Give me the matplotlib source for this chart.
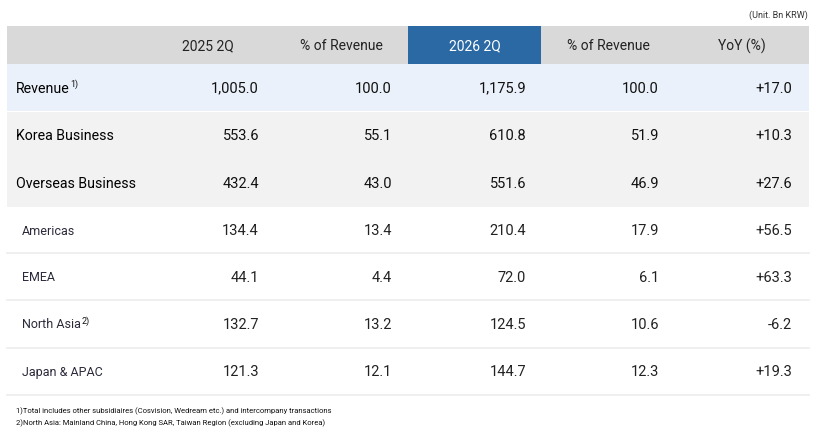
import matplotlib.pyplot as plt
from matplotlib.patches import Rectangle

# table content
columns = ['2025 2Q', '% of Revenue', '2026 2Q', '% of Revenue', 'YoY (%)']
row_labels = ['Revenue', 'Korea Business', 'Overseas Business',
              'Americas', 'EMEA', 'North Asia', 'Japan & APAC']
row_notes = ['1)', '', '', '', '', '2)', '']
rev_2025 = [1005.0, 553.6, 432.4, 134.4, 44.1, 132.7, 121.3]
share_2025 = [100.0, 55.1, 43.0, 13.4, 4.4, 13.2, 12.1]
rev_2026 = [1175.9, 610.8, 551.6, 210.4, 72.0, 124.5, 144.7]
share_2026 = [100.0, 51.9, 46.9, 17.9, 6.1, 10.6, 12.3]
yoy = [17.0, 10.3, 27.6, 56.5, 63.3, -6.2, 19.3]
unit_text = '(Unit. Bn KRW)'
footnotes = ['1)Total includes other subsidiaires (Cosvision, Wedream etc.) and intercompany transactions',
             '2)North Asia: Mainland China, Hong Kong SAR, Taiwan Region (excluding Japan and Korea)']

FONT = ['Roboto', 'DejaVu Sans']

fig = plt.figure(figsize=(8.3, 4.43), dpi=100)
ax = fig.add_axes([0, 0, 1, 1])
ax.set_xlim(0, 830)
ax.set_ylim(443, 0)
ax.axis('off')

left, right = 7, 809
head_top, head_bot = 26, 64
row_edges = [64, 111, 159, 207, 253, 300, 348, 395]
col_bounds = [140, 275, 408, 541, 675, 809]
col_right = [259, 392, 526, 659, 792]

# backgrounds
ax.add_patch(Rectangle((left, head_top), right - left, head_bot - head_top,
                       color='#d9d9d9', lw=0))
ax.add_patch(Rectangle((col_bounds[2], head_top), col_bounds[3] - col_bounds[2],
                       head_bot - head_top, color='#2b69a5', lw=0))
ax.add_patch(Rectangle((left, row_edges[0]), right - left, row_edges[1] - row_edges[0],
                       color='#eaf1fa', lw=0))
ax.add_patch(Rectangle((left, row_edges[1] + 1), right - left, row_edges[3] - row_edges[1] - 1,
                       color='#f2f2f2', lw=0))
for y in row_edges[4:]:
    ax.plot([left, right], [y, y], color='#ececec', lw=1.2)

# header
for i, name in enumerate(columns):
    cx = (col_bounds[i] + col_bounds[i + 1]) / 2
    ax.text(cx, (head_top + head_bot) / 2 + 1, name, ha='center', va='center',
            fontsize=10, family=FONT, color='white' if i == 2 else '#222222')

ax.text(808, 15, unit_text, ha='right', va='center', fontsize=6.5,
        family=FONT, color='#333333')

fig.canvas.draw()
renderer = fig.canvas.get_renderer()

for r, label in enumerate(row_labels):
    cy = (row_edges[r] + row_edges[r + 1]) / 2 + 1
    main = r < 3
    lx = 16 if main else 22
    t = ax.text(lx, cy, label, ha='left', va='center',
                fontsize=10.2 if main else 9, family=FONT,
                color='#000000' if main else '#2a2a3a')
    if row_notes[r]:
        bb = t.get_window_extent(renderer)
        x_end = ax.transData.inverted().transform((bb.x1, bb.y0))[0]
        ax.text(x_end + 0.5, cy - 4, row_notes[r], ha='left', va='center',
                fontsize=6.5, family=FONT, color='#111111')
    vals = [f'{rev_2025[r]:,.1f}', f'{share_2025[r]:.1f}', f'{rev_2026[r]:,.1f}',
            f'{share_2026[r]:.1f}', f'{yoy[r]:+.1f}']
    for c, v in enumerate(vals):
        ax.text(col_right[c], cy, v, ha='right', va='center', fontsize=10.5,
                family=FONT, color='#111111' if main else '#222222')

for k, note in enumerate(footnotes):
    ax.text(16, 411 + 12 * k, note, ha='left', va='center', fontsize=5.5,
            family=FONT, color='#111111')

fig.savefig('out.png', dpi=100)
